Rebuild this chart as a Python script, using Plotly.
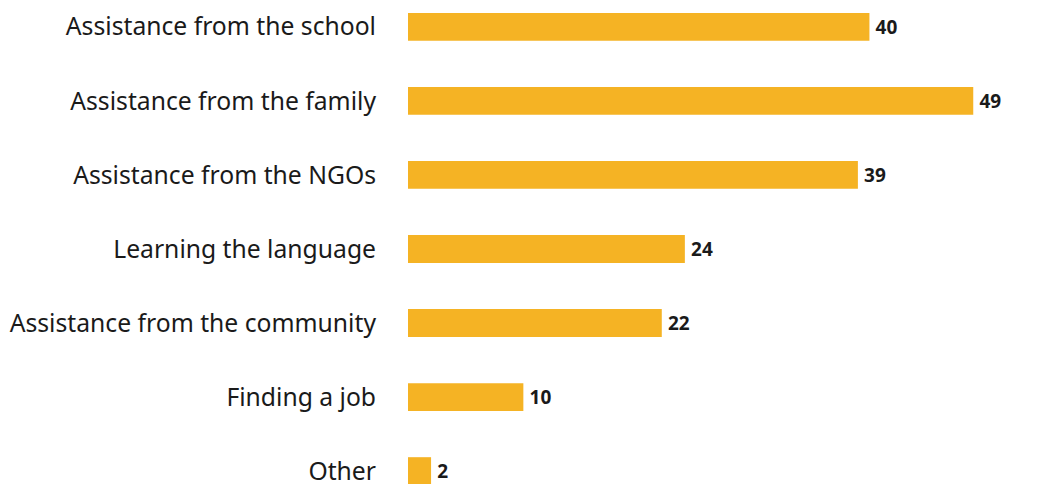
import plotly.graph_objects as go

# Reasons given, top to bottom
categories = [
    "Assistance from the school",
    "Assistance from the family",
    "Assistance from the NGOs",
    "Learning the language",
    "Assistance from the community",
    "Finding a job",
    "Other",
]
values = [40, 49, 39, 24, 22, 10, 2]

BAR_COLOR = "#F5B324"
TEXT_COLOR = "#1a1a1a"
FONT = "Noto Sans, Open Sans, sans-serif"

positions = list(range(len(categories)))

fig = go.Figure(
    go.Bar(
        x=values,
        y=positions,
        orientation="h",
        width=0.376,
        marker=dict(color=BAR_COLOR, line=dict(width=0)),
        texttemplate="\u2009%{x}",
        textposition="outside",
        constraintext="none",
        cliponaxis=False,
        textfont=dict(family=FONT, size=19, color=TEXT_COLOR, weight="bold"),
        hoverinfo="skip",
    )
)

fig.update_layout(
    width=1039,
    height=487,
    margin=dict(l=408, r=0, t=0, b=0),
    paper_bgcolor="white",
    plot_bgcolor="white",
    showlegend=False,
    font=dict(family=FONT, color=TEXT_COLOR),
)

fig.update_xaxes(
    range=[0, 54.7],
    visible=False,
    showgrid=False,
    zeroline=False,
)

fig.update_yaxes(
    tickmode="array",
    tickvals=positions,
    ticktext=categories,
    range=[6.174, -0.362],
    showgrid=False,
    zeroline=False,
    showline=False,
    ticks="",
    ticklabelstandoff=31,
    ticklabeloverflow="allow",
    tickfont=dict(family=FONT, size=24.7, color=TEXT_COLOR),
)

fig.write_html("out.html")
